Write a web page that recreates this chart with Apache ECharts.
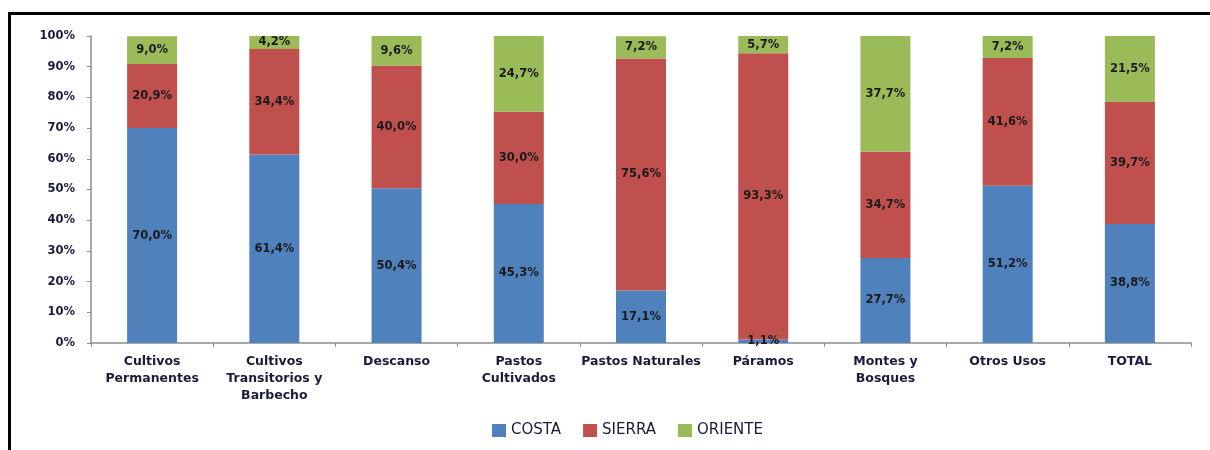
<!DOCTYPE html>
<html>
<head>
<meta charset="utf-8">
<script src="https://cdn.jsdelivr.net/npm/echarts@6/dist/echarts.min.js"></script>
<style>
html,body{margin:0;padding:0;background:#fff;}
#chart{width:1210px;height:450px;}
</style>
</head>
<body>
<div id="chart"></div>
<script>
const categories = ["Cultivos\nPermanentes", "Cultivos\nTransitorios y\nBarbecho", "Descanso", "Pastos\nCultivados", "Pastos Naturales", "Páramos", "Montes y\nBosques", "Otros Usos", "TOTAL"];
const costa   = [70.0, 61.4, 50.4, 45.3, 17.1, 1.1, 27.7, 51.2, 38.8];
const sierra  = [20.9, 34.4, 40.0, 30.0, 75.6, 93.3, 34.7, 41.6, 39.7];
const oriente = [9.0, 4.2, 9.6, 24.7, 7.2, 5.7, 37.7, 7.2, 21.5];
const seriesNames = ["COSTA", "SIERRA", "ORIENTE"];
const colors = ["#4F81BD", "#C0504D", "#9BBB59"];

const FONT = "DejaVu Sans";
const fmt = p => p.value.toFixed(1).replace('.', ',') + '%';

function mk(name, data, color) {
  return {
    name: name, type: 'bar', stack: 'all', data: data, barWidth: 50,
    itemStyle: {color: color},
    label: {show: true, position: 'inside', formatter: fmt, color: '#1a1a1a',
            fontFamily: FONT, fontWeight: 'bold', fontSize: 11.5},
    emphasis: {disabled: true}
  };
}

const chart = echarts.init(document.getElementById('chart'), null, {renderer: 'canvas'});
chart.setOption({
  animation: false,
  backgroundColor: '#fff',
  graphic: [{
    type: 'rect', shape: {x: 9.5, y: 13.5, width: 1400, height: 600},
    style: {fill: 'none', stroke: '#000', lineWidth: 3}, silent: true, z: 100
  }],
  grid: {left: 91, right: 19, top: 36, bottom: 107, containLabel: false},
  legend: {
    bottom: 7, left: 487, itemWidth: 14, itemHeight: 13, itemGap: 22,
    icon: 'rect',
    textStyle: {fontFamily: FONT, fontSize: 15, color: '#1a1a3a', fontWeight: 'normal'},
    data: seriesNames
  },
  xAxis: {
    type: 'category', data: categories,
    axisLine: {lineStyle: {color: '#8c8c8c', width: 1.5}},
    axisTick: {show: true, length: 4, lineStyle: {color: '#8c8c8c'}},
    axisLabel: {interval: 0, margin: 10, fontFamily: FONT, fontSize: 12.5, fontWeight: 'bold',
                color: '#1a1a3a', lineHeight: 17}
  },
  yAxis: {
    type: 'value', min: 0, max: 100, interval: 10,
    axisLine: {show: true, lineStyle: {color: '#8c8c8c', width: 1.5}},
    axisTick: {show: true, length: 4, lineStyle: {color: '#8c8c8c'}},
    splitLine: {show: false},
    axisLabel: {formatter: '{value}%', margin: 16, fontFamily: FONT, fontSize: 11.5,
                fontWeight: 'bold', color: '#1a1a3a'}
  },
  series: [
    mk(seriesNames[0], costa, colors[0]),
    mk(seriesNames[1], sierra, colors[1]),
    mk(seriesNames[2], oriente, colors[2])
  ]
});
</script>
</body>
</html>
